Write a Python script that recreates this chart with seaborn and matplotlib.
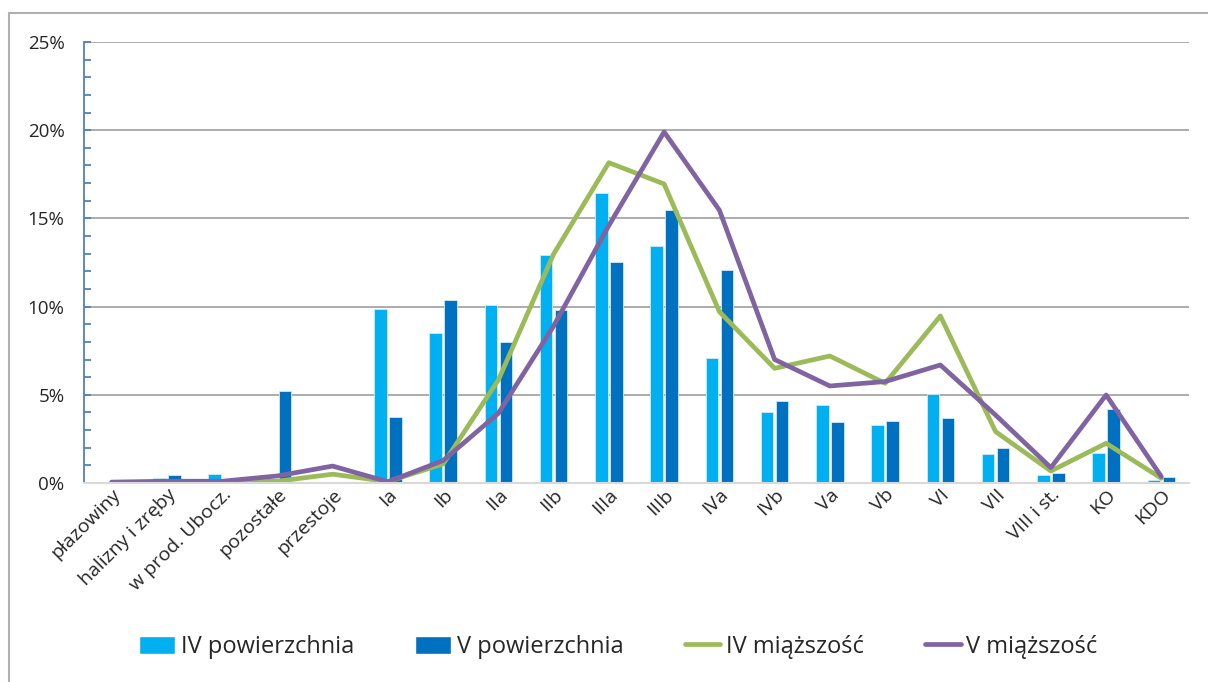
import pandas as pd
import matplotlib
matplotlib.use("Agg")
import matplotlib.pyplot as plt
import seaborn as sns
from matplotlib.patches import Patch
from matplotlib.lines import Line2D
from matplotlib.ticker import MultipleLocator, PercentFormatter

# categories (x axis)
categories = ["płazowiny", "halizny i zręby", "w prod. Ubocz.", "pozostałe", "przestoje",
              "Ia", "Ib", "IIa", "IIb", "IIIa", "IIIb", "IVa", "IVb", "Va", "Vb",
              "VI", "VII", "VIII i st.", "KO", "KDO"]

# bars (%)
iv_pow = [0.0, 0.28, 0.5, 0.05, 0.0, 9.88, 8.48, 10.09, 12.9, 16.46, 13.43, 7.07,
          4.04, 4.4, 3.3, 5.06, 1.63, 0.43, 1.72, 0.17]
v_pow = [0.0, 0.44, 0.15, 5.23, 0.0, 3.76, 10.37, 7.99, 9.8, 12.53, 15.46, 12.07,
         4.65, 3.46, 3.5, 3.67, 1.97, 0.55, 4.2, 0.36]

# lines (%)
iv_miaz = [0.02, 0.05, 0.05, 0.1, 0.5, 0.08, 1.08, 5.84, 12.98, 18.16, 16.95, 9.71,
           6.5, 7.2, 5.65, 9.47, 2.91, 0.68, 2.25, 0.27]
v_miaz = [0.05, 0.1, 0.1, 0.4, 0.96, 0.07, 1.27, 3.95, 8.9, 14.6, 19.9, 15.47,
          7.0, 5.5, 5.75, 6.69, 3.85, 0.87, 4.99, 0.36]

bar_names = ["IV powierzchnia", "V powierzchnia"]
line_names = ["IV miąższość", "V miąższość"]
bar_colors = ["#00B0F0", "#0070C0"]
line_colors = ["#9BBB59", "#8064A2"]

bars = pd.DataFrame({
    "kat": categories * 2,
    "seria": [bar_names[0]] * len(categories) + [bar_names[1]] * len(categories),
    "val": iv_pow + v_pow,
})
lines = pd.DataFrame({
    "kat": categories * 2,
    "seria": [line_names[0]] * len(categories) + [line_names[1]] * len(categories),
    "val": iv_miaz + v_miaz,
})

sns.set_style("white")
plt.rcParams["font.family"] = ["Open Sans", "DejaVu Sans"]

fig = plt.figure(figsize=(12.08, 6.82), dpi=100)
ax = fig.add_axes([84 / 1208, 1 - 483 / 682, (1189 - 84) / 1208, (483 - 42) / 682])

sns.barplot(data=bars, x="kat", y="val", hue="seria", order=categories,
            palette=bar_colors, saturation=1, width=0.54, gap=0.16,
            edgecolor="#CFEAF7", linewidth=0.6, legend=False, ax=ax)
sns.pointplot(data=lines, x="kat", y="val", hue="seria", order=categories,
              palette=line_colors, markers="", linestyles="-", errorbar=None,
              legend=False, ax=ax, linewidth=3.4)

ax.set_ylim(0, 25)
ax.set_xlim(-0.5, len(categories) - 0.5)
ax.yaxis.set_major_locator(MultipleLocator(5))
ax.yaxis.set_minor_locator(MultipleLocator(1))
ax.yaxis.set_major_formatter(PercentFormatter(decimals=0))
ax.grid(axis="y", which="major", color="#A6A6A6", linewidth=1.3)
ax.set_axisbelow(True)
ax.set_xlabel("")
ax.set_ylabel("")

for s in ["top", "right"]:
    ax.spines[s].set_visible(False)
ax.spines["left"].set_color("#4F81BD")
ax.spines["left"].set_linewidth(1.3)
ax.spines["bottom"].set_color("#D9D9D9")
ax.spines["bottom"].set_linewidth(1.5)

ax.tick_params(axis="y", which="both", left=True, direction="in", color="#4F81BD",
               width=1.3, length=5, labelsize=13.5, pad=14)
ax.tick_params(axis="x", length=0, labelsize=14, pad=2)
plt.setp(ax.get_xticklabels(), rotation=45, ha="right", rotation_mode="anchor")

handles = [Patch(facecolor=bar_colors[0], label=bar_names[0]),
           Patch(facecolor=bar_colors[1], label=bar_names[1]),
           Line2D([], [], color=line_colors[0], lw=3.4, label=line_names[0]),
           Line2D([], [], color=line_colors[1], lw=3.4, label=line_names[1])]
fig.legend(handles=handles, loc="center", bbox_to_anchor=(0.512, 1 - 647 / 682),
           ncol=4, frameon=False, fontsize=17, handlelength=1.5, handleheight=0.8,
           handletextpad=0.25, columnspacing=2.6)

# outer chart frame
fig.add_artist(Line2D([9 / 1208, 1], [1 - 13 / 682, 1 - 13 / 682],
                      transform=fig.transFigure, color="#B0B0B0", lw=1.5))
fig.add_artist(Line2D([9 / 1208, 9 / 1208], [0, 1 - 13 / 682],
                      transform=fig.transFigure, color="#B0B0B0", lw=1.5))

fig.savefig("out.png", dpi=100)
